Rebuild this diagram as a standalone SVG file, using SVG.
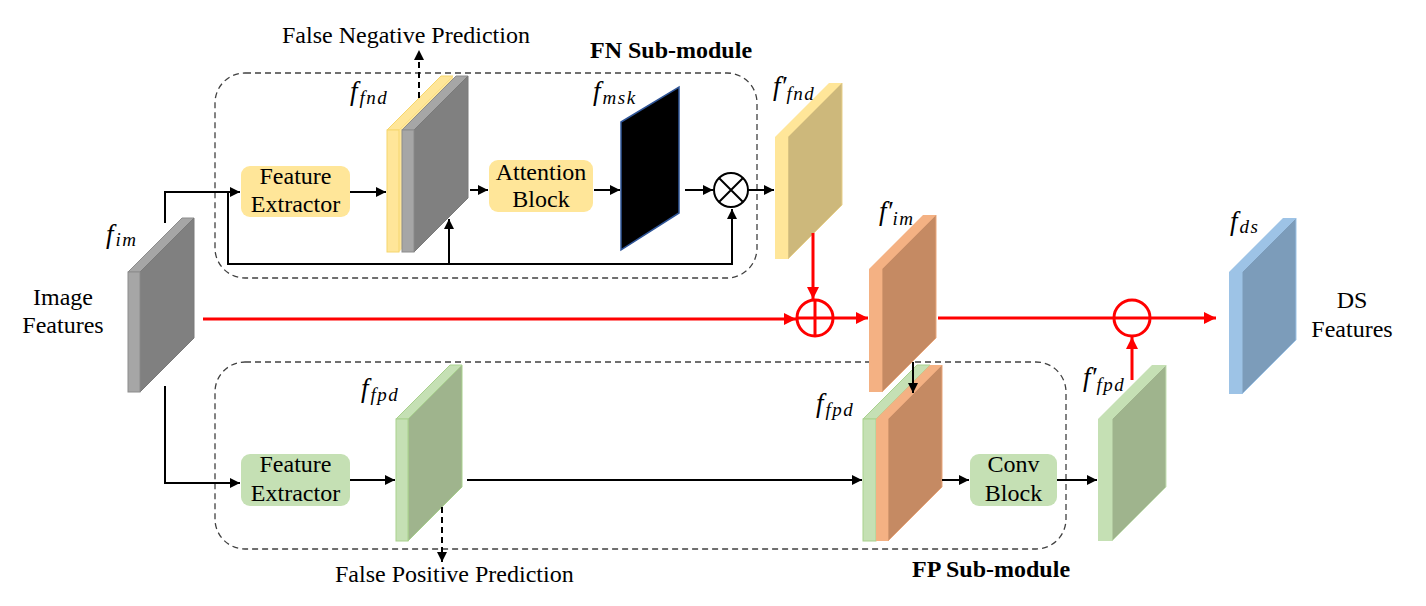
<svg xmlns="http://www.w3.org/2000/svg" width="1426" height="606" viewBox="0 0 1426 606">
<defs>
<marker id="ab" viewBox="0 0 10 10" refX="10" refY="5" markerWidth="5" markerHeight="5" orient="auto" markerUnits="strokeWidth"><path d="M0,0 L10,5 L0,10 z" fill="#000"/></marker>
<marker id="ar" viewBox="0 0 10 10" refX="10" refY="5" markerWidth="4.5" markerHeight="4" orient="auto" markerUnits="strokeWidth"><path d="M0,0 L10,5 L0,10 z" fill="#FF0000"/></marker>
<style>
text{font-family:'Liberation Serif','Times New Roman','DejaVu Serif',serif}
.txt{fill:#000;font-size:24px}
.lbl{font-style:italic;font-size:27px;fill:#000}
.sub{font-size:19px;letter-spacing:1.5px}
.dash{fill:none;stroke:#404040;stroke-width:1.3;stroke-dasharray:6,4}
.bl{fill:none;stroke:#000;stroke-width:2}
.rd{fill:none;stroke:#FF0000;stroke-width:3}
</style>
</defs>
<rect width="1426" height="606" fill="#fff"/>

<g id="fn-module">
<rect class="dash" x="215" y="73" width="542" height="205" rx="30"/>
<text class="txt" x="590" y="58" font-weight="bold">FN Sub-module</text>
</g>
<g id="fp-module">
<rect class="dash" x="215" y="362" width="851" height="187" rx="30"/>
<text class="txt" x="912" y="577" font-weight="bold">FP Sub-module</text>
</g>

<g id="image-features">
<text class="txt" x="63" y="305" text-anchor="middle">Image</text>
<text class="txt" x="63" y="333" text-anchor="middle">Features</text>
</g>

<g id="f-im">
<polygon points="128,272 182,218 194,218 140,272" fill="#A6A6A6" stroke="#8C8C8C" stroke-width="1"/>
<polygon points="140,272 194,218 194,338 140,392" fill="#808080" stroke="#7A7A7A" stroke-width="1"/>
<rect x="128" y="272" width="12" height="120" fill="#A6A6A6" stroke="#8C8C8C" stroke-width="1"/>
<text class="lbl" x="106" y="243">f<tspan class="sub" dx="2" dy="3">im</tspan></text>
</g>

<g id="fe-fn">
<rect x="241" y="166" width="109" height="51" rx="9" fill="#FFE699"/>
<text class="txt" x="295.5" y="184" text-anchor="middle">Feature</text>
<text class="txt" x="295.5" y="212" text-anchor="middle">Extractor</text>
</g>

<g id="f-fnd">
<polygon points="387,130 441,76 453,76 399,130" fill="#FFE699" stroke="#F5D66E" stroke-width="1"/>
<polygon points="399,130 453,76 453,198 399,252" fill="#FFE699"/>
<rect x="387" y="130" width="12" height="122" fill="#FFE699" stroke="#F5D66E" stroke-width="1"/>
<polygon points="402,130 456,76 468,76 414,130" fill="#A6A6A6" stroke="#8C8C8C" stroke-width="1"/>
<polygon points="414,130 468,76 468,198 414,252" fill="#808080" stroke="#7A7A7A" stroke-width="1"/>
<rect x="402" y="130" width="12" height="122" fill="#A6A6A6" stroke="#8C8C8C" stroke-width="1"/>
<text class="lbl" x="350" y="100">f<tspan class="sub" dx="2" dy="4">fnd</tspan></text>
</g>

<g id="attention">
<rect x="489" y="160" width="104" height="52" rx="9" fill="#FFE699"/>
<text class="txt" x="541" y="180" text-anchor="middle">Attention</text>
<text class="txt" x="541" y="207" text-anchor="middle">Block</text>
</g>

<g id="f-msk">
<polygon points="621,122 679,87 679,213 621,250" fill="#000" stroke="#2F5597" stroke-width="1.5"/>
<text class="lbl" x="593" y="100">f<tspan class="sub" dx="2" dy="4">msk</tspan></text>
</g>

<g id="mult">
<circle cx="731" cy="190" r="17" fill="#fff" stroke="#000" stroke-width="2"/>
<path d="M719,178 L743,202 M743,178 L719,202" stroke="#000" stroke-width="2"/>
</g>

<g id="f-fnd-prime">
<polygon points="775,137 829,83 842,83 788,137" fill="#FFE699"/>
<polygon points="788,137 842,83 842,205 788,259" fill="#CDB87B" stroke="#E8D08A" stroke-width="1"/>
<rect x="775" y="137" width="13" height="122" fill="#FFE699"/>
<text class="lbl" x="773" y="95">f′<tspan class="sub" dx="0" dy="5">fnd</tspan></text>
</g>

<g id="plus">
<circle cx="815" cy="318" r="18" fill="none" stroke="#FF0000" stroke-width="3"/>
<path d="M797,318 H833 M815,300 V336" stroke="#FF0000" stroke-width="3"/>
</g>

<g id="f-im-prime">
<polygon points="869,269 923,215 936,215 882,269" fill="#F4B183"/>
<polygon points="882,269 936,215 936,338 882,392" fill="#C58A63" stroke="#E9A77C" stroke-width="1"/>
<rect x="869" y="269" width="13" height="123" fill="#F4B183"/>
<text class="lbl" x="879" y="220">f′<tspan class="sub" dx="0" dy="5">im</tspan></text>
</g>

<g id="minus">
<circle cx="1132" cy="318" r="18" fill="none" stroke="#FF0000" stroke-width="3"/>
</g>

<g id="f-ds">
<polygon points="1229,272 1283,218 1296,218 1242,272" fill="#9DC3E6"/>
<polygon points="1242,272 1296,218 1296,340 1242,394" fill="#7C9CBA" stroke="#9DC3E6" stroke-width="1"/>
<rect x="1229" y="272" width="13" height="122" fill="#9DC3E6"/>
<text class="lbl" x="1230" y="230">f<tspan class="sub" dx="2" dy="3">ds</tspan></text>
</g>

<g id="ds-features">
<text class="txt" x="1352" y="308" text-anchor="middle">DS</text>
<text class="txt" x="1352" y="337" text-anchor="middle">Features</text>
</g>

<g id="fe-fp">
<rect x="241" y="454" width="109" height="52" rx="9" fill="#C5E0B4"/>
<text class="txt" x="295.5" y="472" text-anchor="middle">Feature</text>
<text class="txt" x="295.5" y="501" text-anchor="middle">Extractor</text>
</g>

<g id="f-fpd">
<polygon points="396,419 450,365 462,365 408,419" fill="#C5E0B4" stroke="#A9D18E" stroke-width="1"/>
<polygon points="408,419 462,365 462,487 408,541" fill="#9FB48D" stroke="#A9D18E" stroke-width="1"/>
<rect x="396" y="419" width="12" height="122" fill="#C5E0B4" stroke="#A9D18E" stroke-width="1"/>
<text class="lbl" x="361" y="397">f<tspan class="sub" dx="2" dy="4">fpd</tspan></text>
</g>

<g id="f-fpd-concat">
<polygon points="863,419 917,365 930,365 876,419" fill="#C5E0B4" stroke="#A9D18E" stroke-width="1"/>
<rect x="863" y="419" width="13" height="122" fill="#C5E0B4" stroke="#A9D18E" stroke-width="1"/>
<polygon points="876,419 930,365 942,365 888,419" fill="#F4B183"/>
<polygon points="888,419 942,365 942,487 888,541" fill="#C58A63" stroke="#E9A77C" stroke-width="1"/>
<rect x="876" y="419" width="12" height="122" fill="#F4B183"/>
<text class="lbl" x="816" y="412">f<tspan class="sub" dx="2" dy="4">fpd</tspan></text>
</g>

<g id="conv">
<rect x="970" y="454" width="87" height="52" rx="9" fill="#C5E0B4"/>
<text class="txt" x="1013.5" y="472" text-anchor="middle">Conv</text>
<text class="txt" x="1013.5" y="501" text-anchor="middle">Block</text>
</g>

<g id="f-fpd-prime">
<polygon points="1098,419 1152,365 1166,365 1112,419" fill="#C5E0B4"/>
<polygon points="1112,419 1166,365 1166,487 1112,541" fill="#9FB48D" stroke="#C5E0B4" stroke-width="1"/>
<rect x="1098" y="419" width="14" height="122" fill="#C5E0B4"/>
<text class="lbl" x="1083" y="386">f′<tspan class="sub" dx="0" dy="5">fpd</tspan></text>
</g>

<g id="predictions">
<text class="txt" x="282" y="43">False Negative Prediction</text>
<text class="txt" x="335" y="582">False Positive Prediction</text>
</g>

<g id="connectors">
<path class="bl" d="M165,223 V192 H240" marker-end="url(#ab)"/>
<path class="bl" d="M228,192 V264 H732 V209" marker-end="url(#ab)"/>
<path class="bl" d="M449,264 V219" marker-end="url(#ab)"/>
<path class="bl" d="M350,192 H386" marker-end="url(#ab)"/>
<path class="bl" d="M470,190 H488" marker-end="url(#ab)"/>
<path class="bl" d="M594,190 H620" marker-end="url(#ab)"/>
<path class="bl" d="M685,190 H713" marker-end="url(#ab)"/>
<path class="bl" d="M748,190 H774" marker-end="url(#ab)"/>
<path class="bl" d="M419,98 V50" stroke-dasharray="6,4" marker-end="url(#ab)"/>
<path class="bl" d="M165,386 V483 H240" marker-end="url(#ab)"/>
<path class="bl" d="M350,480 H395" marker-end="url(#ab)"/>
<path class="bl" d="M467,480 H862" marker-end="url(#ab)"/>
<path class="bl" d="M942,480 H969" marker-end="url(#ab)"/>
<path class="bl" d="M1057,480 H1097" marker-end="url(#ab)"/>
<path class="bl" d="M913,362 V393" marker-end="url(#ab)"/>
<path class="bl" d="M442,507 V562" stroke-dasharray="6,4" marker-end="url(#ab)"/>
<path class="rd" d="M203,319 H796" marker-end="url(#ar)"/>
<path class="rd" d="M813,233 V299" marker-end="url(#ar)"/>
<path class="rd" d="M834,318 H868" marker-end="url(#ar)"/>
<path class="rd" d="M938,318 H1216" marker-end="url(#ar)"/>
<path class="rd" d="M1132,380 V337" marker-end="url(#ar)"/>
</g>
</svg>
